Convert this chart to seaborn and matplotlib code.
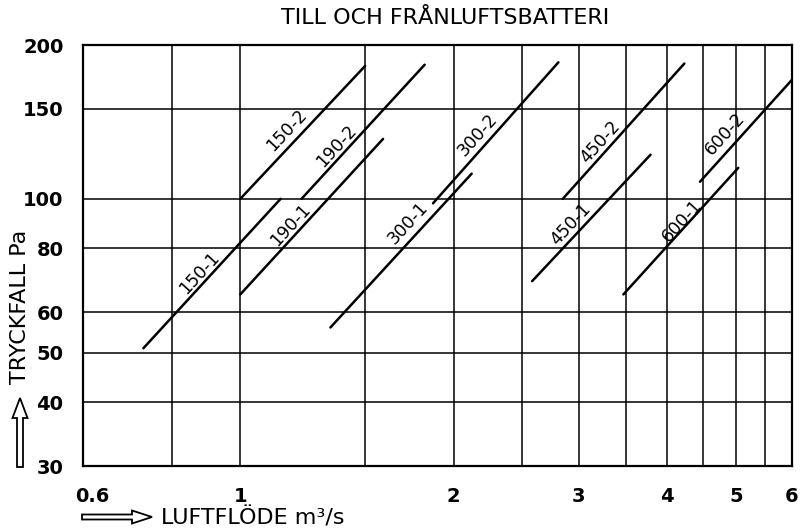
import numpy as np
import pandas as pd
import matplotlib
matplotlib.use("Agg")
import matplotlib.pyplot as plt
import matplotlib.transforms as mtransforms
import seaborn as sns
from matplotlib.ticker import FixedLocator, FixedFormatter, NullLocator
from matplotlib.patches import FancyArrow

# Coil designations and the end points of each pressure-drop line
coils = ["150-1", "150-2", "190-1", "190-2", "300-1",
         "300-2", "450-1", "450-2", "600-1", "600-2"]
flow_start = [0.73, 1.00, 1.00, 1.22, 1.34, 1.87, 2.58, 2.85, 3.47, 4.45]
flow_end = [1.14, 1.50, 1.59, 1.82, 2.12, 2.81, 3.79, 4.23, 5.04, 6.00]
dp_start = [51, 100, 65, 100, 56, 98, 69, 100, 65, 108]
dp_end = [100, 182, 131, 183, 112, 185, 122, 184, 115, 171]

x_ticks = [0.6, 1, 2, 3, 4, 5, 6]
x_tick_labels = ["0.6", "1", "2", "3", "4", "5", "6"]
x_extra_grid = [0.8, 1.5, 2.5, 3.5, 4.5, 5.5]
y_ticks = [30, 40, 50, 60, 80, 100, 150, 200]
y_tick_labels = ["30", "40", "50", "60", "80", "100", "150", "200"]

# where each coil label sits along its line (0 = start, 1 = end)
label_frac = [0.46, 0.45, 0.40, 0.34, 0.62, 0.43, 0.39, 0.37, 0.55, 0.38]
label_offset = [10, 13, 10, 10, 13, 12, 11, 10, 6, 14]

df = pd.DataFrame({
    "coil": np.repeat(coils, 2),
    "flow": np.ravel(np.column_stack([flow_start, flow_end])),
    "dp": np.ravel(np.column_stack([dp_start, dp_end])),
})

sns.set_theme(style="white")
plt.rcParams["font.family"] = ["DejaVu Sans"]

W, H = 800, 530
fig = plt.figure(figsize=(W / 100, H / 100), dpi=100)
ax = fig.add_axes([83 / W, 1 - 466 / H, (792 - 83) / W, (466 - 45) / H])

sns.lineplot(data=df, x="flow", y="dp", units="coil", estimator=None,
             color="black", lw=1.8, ax=ax, legend=False)

ax.set_xscale("log")
ax.set_yscale("log")
ax.set_xlim(0.6, 6)
ax.set_ylim(30, 200)

ax.xaxis.set_major_locator(FixedLocator(x_ticks))
ax.xaxis.set_major_formatter(FixedFormatter(x_tick_labels))
ax.xaxis.set_minor_locator(FixedLocator(x_extra_grid))
ax.xaxis.set_minor_formatter(FixedFormatter([""] * len(x_extra_grid)))
ax.yaxis.set_major_locator(FixedLocator(y_ticks))
ax.yaxis.set_major_formatter(FixedFormatter(y_tick_labels))
ax.yaxis.set_minor_locator(NullLocator())

ax.grid(True, which="both", color="black", lw=1.1)
ax.tick_params(which="both", length=0)
ax.tick_params(axis="y", pad=14, labelsize=14, labelcolor="black")
ax.tick_params(axis="x", pad=15, labelsize=14, labelcolor="black")
for lab in ax.get_xticklabels() + ax.get_yticklabels():
    lab.set_fontweight("bold")
for sp in ax.spines.values():
    sp.set_color("black")
    sp.set_linewidth(1.6)
ax.set_xlabel("")
ax.set_ylabel("")

# nudge the leftmost flow label inward, clear of the corner
first = ax.get_xticklabels()[0]
first.set_transform(first.get_transform()
                    + mtransforms.ScaledTranslation(0.09, 0, fig.dpi_scale_trans))

# Coil labels laid along each line
for name, x0, x1, y0, y1, t, d in zip(coils, flow_start, flow_end,
                                       dp_start, dp_end, label_frac, label_offset):
    p0 = ax.transData.transform((x0, y0))
    p1 = ax.transData.transform((x1, y1))
    ang = np.arctan2(p1[1] - p0[1], p1[0] - p0[0])
    xm = 10 ** (np.log10(x0) + t * (np.log10(x1) - np.log10(x0)))
    ym = 10 ** (np.log10(y0) + t * (np.log10(y1) - np.log10(y0)))
    ax.annotate(name, xy=(xm, ym),
                xytext=(-np.sin(ang) * d, np.cos(ang) * d),
                textcoords="offset pixels", rotation=np.degrees(ang),
                rotation_mode="anchor", ha="center", va="center",
                fontsize=12.5, color="black")

fig.text(445 / W, 1 - 18 / H, "TILL OCH FRÅNLUFTSBATTERI",
         ha="center", va="center", fontsize=16, color="black")
fig.text(20 / W, 1 - 307 / H, "TRYCKFALL Pa", rotation=90,
         ha="center", va="center", fontsize=16, color="black")
fig.text(161 / W, 1 - 518 / H, "LUFTFLÖDE m³/s",
         ha="left", va="center", fontsize=16, color="black")

# Hollow direction arrows next to the axis titles
up = FancyArrow(0.20, (H - 467) / 100, 0, 0.69, width=0.06, head_width=0.15,
                head_length=0.20, length_includes_head=True, fc="white",
                ec="black", lw=1.3, transform=fig.dpi_scale_trans)
right = FancyArrow(0.82, (H - 517) / 100, 0.70, 0, width=0.05, head_width=0.13,
                   head_length=0.20, length_includes_head=True, fc="white",
                   ec="black", lw=1.3, transform=fig.dpi_scale_trans)
fig.add_artist(up)
fig.add_artist(right)

fig.savefig("out.png", dpi=100, facecolor="white")
